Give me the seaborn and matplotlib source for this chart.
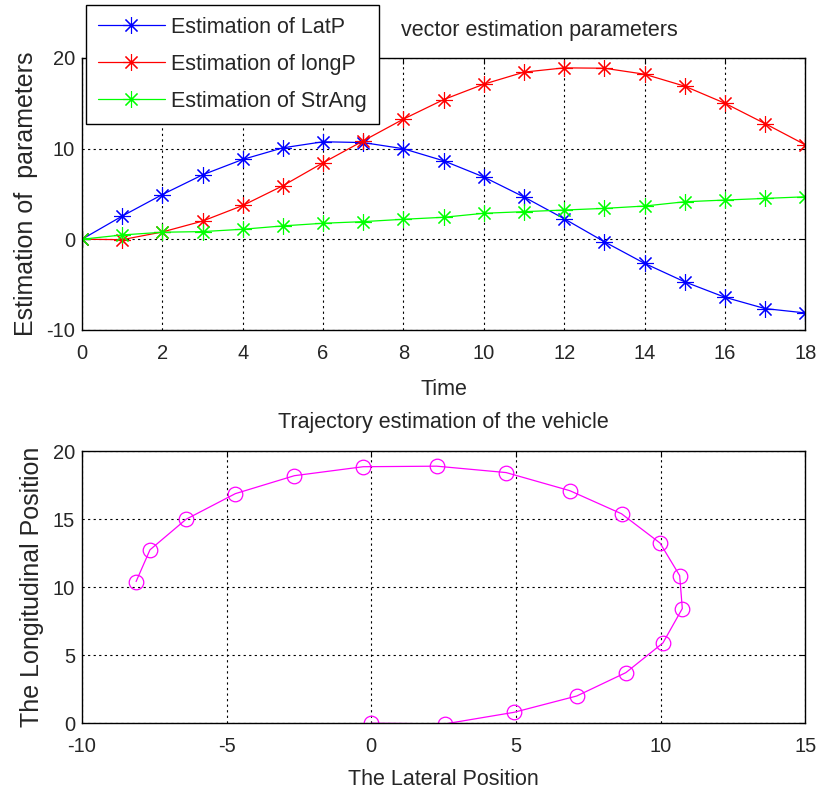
import numpy as np
import pandas as pd
import matplotlib
matplotlib.use('Agg')
import matplotlib.pyplot as plt
import seaborn as sns

sns.set_style('white')
plt.rcParams['font.family'] = ['Liberation Sans', 'DejaVu Sans']
plt.rcParams['axes.unicode_minus'] = False

# values
time = list(range(19))
lat_p = [0, 2.55, 4.93, 7.1, 8.8, 10.08, 10.75, 10.66, 9.98, 8.65, 6.86,
         4.66, 2.26, -0.28, -2.66, -4.7, -6.4, -7.65, -8.13]
long_p = [0, -0.05, 0.8, 2.0, 3.72, 5.9, 8.43, 10.85, 13.25, 15.4, 17.1,
          18.43, 18.9, 18.86, 18.2, 16.88, 15.0, 12.75, 10.42]
str_ang = [0, 0.47, 0.77, 0.84, 1.1, 1.47, 1.76, 1.94, 2.2, 2.42, 2.86,
           3.04, 3.22, 3.4, 3.66, 4.13, 4.32, 4.5, 4.68]

series_names = ['Estimation of LatP', 'Estimation of longP', 'Estimation of StrAng']
series_colors = ['#0000ff', '#ff0000', '#00ff00']

df = pd.DataFrame({'Time': time, series_names[0]: lat_p,
                   series_names[1]: long_p, series_names[2]: str_ang})

fig = plt.figure(figsize=(8.2, 7.93), dpi=100)
ax1 = fig.add_axes([0.1, 0.584, 0.882, 0.343])
ax2 = fig.add_axes([0.1, 0.088, 0.882, 0.343])

tick_fs = 14.5
label_fs = 15.5
star = (8, 2, 0)

for name, col in zip(series_names, series_colors):
    sns.lineplot(data=df, x='Time', y=name, ax=ax1, color=col, marker=star,
                 markersize=12, markeredgecolor=col, markeredgewidth=0.8,
                 linewidth=0.9, label=name, legend=False)

sns.lineplot(x=lat_p, y=long_p, ax=ax2, sort=False, estimator=None,
             color='#ff00ff', marker='o', markersize=10.5, markerfacecolor='none',
             markeredgecolor='#ff00ff', markeredgewidth=0.9, linewidth=0.9)

def matlab_axes(ax, xlim, ylim, xticks, yticks):
    ax.set_xlim(*xlim)
    ax.set_ylim(*ylim)
    ax.set_xticks(xticks)
    ax.set_yticks(yticks)
    ax.grid(True, linestyle=(0, (2, 3)), color='black', linewidth=0.8)
    ax.tick_params(direction='in', top=True, right=True, length=4,
                   labelsize=tick_fs, color='black')
    ax.tick_params(axis='x', pad=10)
    ax.tick_params(axis='y', pad=5)
    for sp in ax.spines.values():
        sp.set_color('black')
        sp.set_linewidth(1.0)

matlab_axes(ax1, (0, 18), (-10, 20), range(0, 19, 2), [-10, 0, 10, 20])
matlab_axes(ax2, (-10, 15), (0, 20), [-10, -5, 0, 5, 10, 15], [0, 5, 10, 15, 20])

ax1.set_xlabel('Time', fontsize=label_fs, labelpad=12)
ax1.set_ylabel('Estimation of  parameters', fontsize=18, labelpad=6)
ax1.set_title('vector estimation parameters', fontsize=label_fs, x=0.633, pad=16)

ax2.set_xlabel('The Lateral Position', fontsize=label_fs, labelpad=9)
ax2.set_ylabel('The Longitudinal Position', fontsize=18, labelpad=6)
ax2.set_title('Trajectory estimation of the vehicle', fontsize=label_fs, pad=17)

handles, labels = ax1.get_legend_handles_labels()
leg = fig.legend(handles, labels, loc='upper left', bbox_to_anchor=(0.105, 0.994),
                 fontsize=label_fs, frameon=True, fancybox=False, framealpha=1,
                 edgecolor='black', handlelength=3.1, labelspacing=0.75,
                 borderpad=0.55, handletextpad=0.3, borderaxespad=0)
leg.get_frame().set_linewidth(1.0)

fig.savefig('out.png', dpi=100)
